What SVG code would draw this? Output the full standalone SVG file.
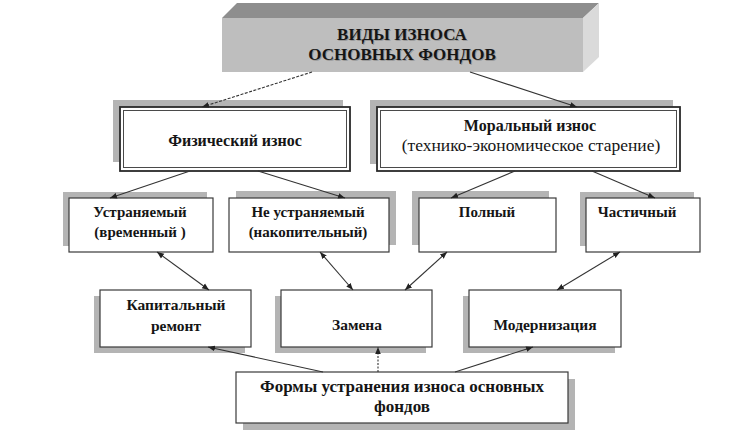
<svg xmlns="http://www.w3.org/2000/svg" width="749" height="439" viewBox="0 0 749 439">
  <defs>
    <marker id="arr" viewBox="0 0 10 10" refX="10" refY="5" markerWidth="7" markerHeight="7" markerUnits="userSpaceOnUse" orient="auto-start-reverse">
      <path d="M0,1 L10,5 L0,9 z" fill="#222"/>
    </marker>
  </defs>
  <style>
    .sh { fill: #b4b4b4; }
    .box { fill: #ffffff; stroke: #3a3a3a; stroke-width: 1.2; }
    .box2 { fill: #ffffff; stroke: #2a2a2a; stroke-width: 1.8; }
    .inner { fill: none; stroke: #4a4a4a; stroke-width: 1; }
    .t { font-family: "Liberation Serif", "Times New Roman", serif; fill: #151515; text-anchor: middle; }
    .b { font-weight: bold; }
    .c { stroke: #333; stroke-width: 1.1; fill: none; }
  </style>
  <rect width="749" height="439" fill="#ffffff"/>

  <g id="vidy-iznosa">
    <polygon points="222,18 237,3 599,3 583,18" fill="#8e8e8e"/>
    <polygon points="583,18 599,3 599,57 583,72" fill="#dadada"/>
    <rect x="222" y="18" width="361" height="54" fill="#bebebe"/>
    <text class="t b" x="403" y="41" font-size="17" style="fill:#9a9a9a">ВИДЫ ИЗНОСА</text>
    <text class="t b" x="402" y="40" font-size="17">ВИДЫ ИЗНОСА</text>
    <text class="t b" x="403" y="61" font-size="17" style="fill:#9a9a9a">ОСНОВНЫХ ФОНДОВ</text>
    <text class="t b" x="402" y="60" font-size="17">ОСНОВНЫХ ФОНДОВ</text>
  </g>

  <g id="fizicheskiy">
    <rect class="sh" x="113" y="100" width="230" height="62"/>
    <rect class="box2" x="120" y="107" width="230" height="64"/>
    <rect class="inner" x="123.5" y="110.5" width="223" height="57"/>
    <text class="t b" x="235" y="146" font-size="16">Физический износ</text>
  </g>

  <g id="moralnyy">
    <rect class="sh" x="370" y="100" width="303" height="64"/>
    <rect class="box2" x="377" y="107" width="303" height="64"/>
    <rect class="inner" x="380.5" y="110.5" width="296" height="57"/>
    <text class="t b" x="530" y="131" font-size="16">Моральный износ</text>
    <text class="t" x="531" y="151" font-size="17.5">(технико-экономическое старение)</text>
  </g>

  <g id="ustranyaemyy">
    <rect class="sh" x="63" y="192" width="144" height="54"/>
    <rect class="box" x="69" y="198" width="144" height="54"/>
    <text class="t b" x="140" y="217" font-size="15">Устраняемый</text>
    <text class="t b" x="140" y="237" font-size="15">(временный )</text>
  </g>

  <g id="ne-ustranyaemyy">
    <rect class="sh" x="236" y="191" width="160" height="54"/>
    <rect class="box" x="229" y="198" width="160" height="54"/>
    <text class="t b" x="308" y="217" font-size="15">Не устраняемый</text>
    <text class="t b" x="308" y="237" font-size="15">(накопительный)</text>
  </g>

  <g id="polnyy">
    <rect class="sh" x="412" y="191" width="137" height="54"/>
    <rect class="box" x="419" y="198" width="137" height="54"/>
    <text class="t b" x="487" y="217" font-size="15">Полный</text>
  </g>

  <g id="chastichnyy">
    <rect class="sh" x="580" y="192" width="114" height="54"/>
    <rect class="box" x="586" y="198" width="114" height="54"/>
    <text class="t b" x="637" y="217" font-size="15">Частичный</text>
  </g>

  <g id="kapitalnyy-remont">
    <rect class="sh" x="94" y="296" width="151" height="57"/>
    <rect class="box" x="100" y="290" width="151" height="57"/>
    <text class="t b" x="176" y="310" font-size="15.5">Капитальный</text>
    <text class="t b" x="176" y="331" font-size="15.5">ремонт</text>
  </g>

  <g id="zamena">
    <rect class="sh" x="275" y="296" width="151" height="57"/>
    <rect class="box" x="281" y="290" width="151" height="57"/>
    <text class="t b" x="357" y="330" font-size="15.5">Замена</text>
  </g>

  <g id="modernizatsiya">
    <rect class="sh" x="463" y="296" width="152" height="57"/>
    <rect class="box" x="469" y="290" width="152" height="57"/>
    <text class="t b" x="545" y="330" font-size="15.5">Модернизация</text>
  </g>

  <g id="formy-ustraneniya">
    <rect class="sh" x="243" y="379" width="332" height="51"/>
    <rect class="box" x="236" y="372" width="332" height="51"/>
    <text class="t" x="402" y="392" font-size="17" style="font-weight:600">Формы устранения износа основных</text>
    <text class="t" x="402" y="412" font-size="17" style="font-weight:600">фондов</text>
  </g>

  <g id="connectors">
    <line class="c" x1="312" y1="72" x2="202" y2="107" stroke-dasharray="3,1.5" marker-end="url(#arr)"/>
    <line class="c" x1="470" y1="72" x2="577" y2="107" marker-end="url(#arr)"/>
    <line class="c" x1="190" y1="171" x2="110" y2="198" marker-end="url(#arr)"/>
    <line class="c" x1="258" y1="171" x2="345" y2="198" marker-end="url(#arr)"/>
    <line class="c" x1="515" y1="171" x2="451" y2="198" marker-end="url(#arr)"/>
    <line class="c" x1="592" y1="171" x2="655" y2="198" marker-end="url(#arr)"/>
    <line class="c" x1="157" y1="252" x2="209" y2="290" marker-start="url(#arr)" marker-end="url(#arr)"/>
    <line class="c" x1="320" y1="252" x2="353" y2="290" marker-start="url(#arr)" marker-end="url(#arr)"/>
    <line class="c" x1="447" y1="252" x2="405" y2="290" marker-start="url(#arr)" marker-end="url(#arr)"/>
    <line class="c" x1="620" y1="252" x2="557" y2="290" marker-start="url(#arr)" marker-end="url(#arr)"/>
    <line class="c" x1="323" y1="372" x2="208" y2="347" marker-end="url(#arr)"/>
    <line class="c" x1="378" y1="372" x2="378" y2="347" stroke-dasharray="2,1.5" marker-end="url(#arr)"/>
    <line class="c" x1="455" y1="372" x2="533" y2="347" marker-end="url(#arr)"/>
  </g>
</svg>
